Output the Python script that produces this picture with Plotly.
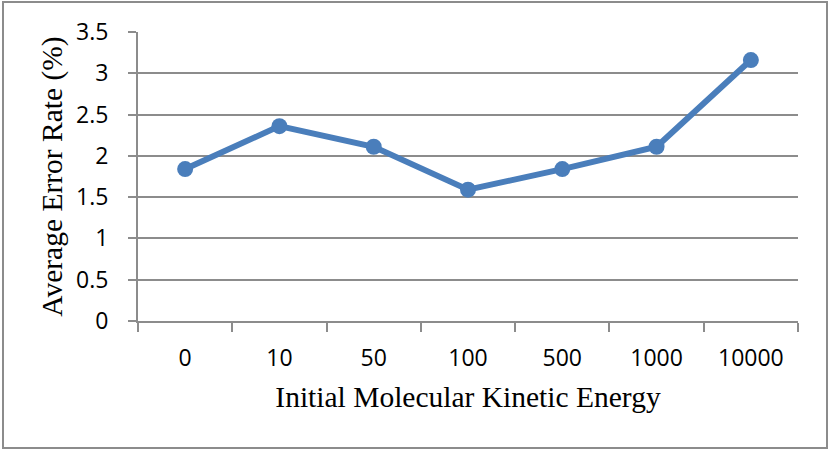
import plotly.graph_objects as go

categories = ["0", "10", "50", "100", "500", "1000", "10000"]
error_rate = [1.84, 2.36, 2.11, 1.59, 1.84, 2.11, 3.16]
x_title = "Initial Molecular Kinetic Energy"
y_title = "Average Error Rate (%)"

W, H = 830, 451
L, R, T, B = 138, 32, 32, 130
pw, ph = W - L - R, H - T - B

def px2paper(x, y):
    return (x - L) / pw, (H - B - y) / ph

fig = go.Figure()
fig.add_trace(go.Scatter(
    x=categories, y=error_rate, mode="lines+markers",
    line=dict(color="#4A7EBB", width=6),
    marker=dict(color="#4A7EBB", size=16),
    showlegend=False, cliponaxis=False,
))

x0, y0 = px2paper(3, 2)
x1, y1 = px2paper(827, 448)
fig.add_shape(type="rect", xref="paper", yref="paper", x0=x0, y0=y1, x1=x1, y1=y0,
              line=dict(color="#8C8C8C", width=2), layer="below")

fig.update_layout(
    width=W, height=H,
    margin=dict(l=L, r=R, t=T, b=B, autoexpand=False),
    paper_bgcolor="white", plot_bgcolor="white",
    xaxis=dict(
        type="category", tickson="boundaries", ticks="outside", ticklen=9,
        tickcolor="#8C8C8C", tickwidth=2, showline=True, linecolor="#8C8C8C", linewidth=2,
        showgrid=False, tickfont=dict(family="Open Sans", size=23, color="black"),
        ticklabelstandoff=15,
        title=dict(text=x_title, font=dict(family="Liberation Serif", size=29.5, color="black"), standoff=15),
        range=[-0.5, 6.5],
    ),
    yaxis=dict(
        range=[0, 3.5], dtick=0.5, ticks="outside", ticklen=8, tickcolor="#8C8C8C", tickwidth=2,
        showline=True, linecolor="#8C8C8C", linewidth=2,
        showgrid=True, gridcolor="#8C8C8C", gridwidth=2, zeroline=False,
        tickfont=dict(family="Open Sans", size=23, color="black"),
        ticklabelstandoff=15,
        title=dict(text=y_title, font=dict(family="Liberation Serif", size=29.5, color="black"), standoff=5),
    ),
)

fig.write_html("out.html", config={"displayModeBar": False},
               post_script="document.body.style.margin='0';document.body.style.overflow='hidden';")
